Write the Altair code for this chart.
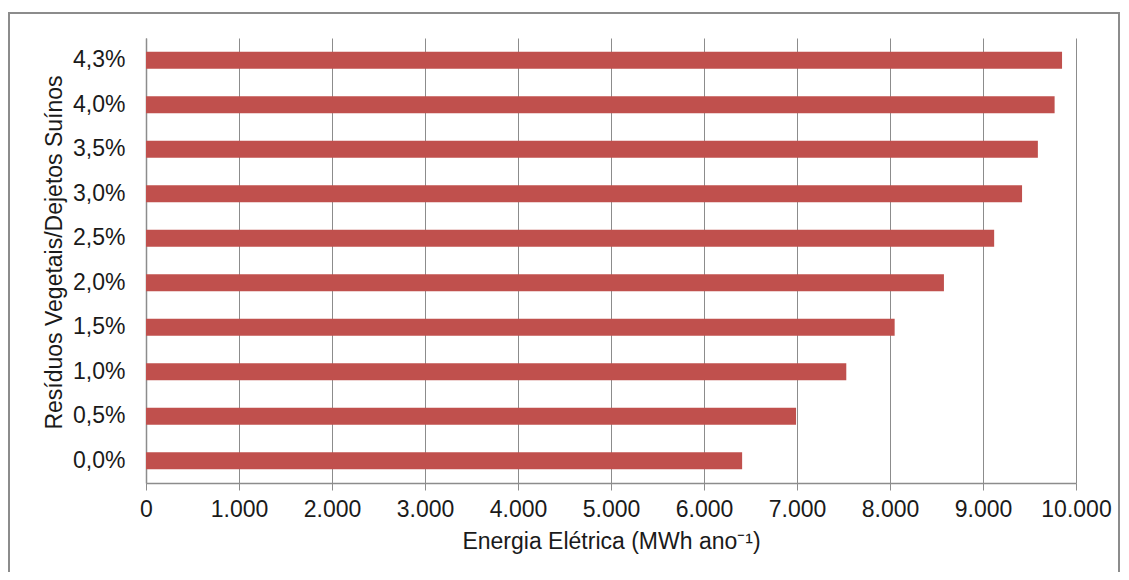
import altair as alt
import pandas as pd

categories = ["0,0%", "0,5%", "1,0%", "1,5%", "2,0%", "2,5%", "3,0%", "3,5%", "4,0%", "4,3%"]
values = [6410, 6990, 7530, 8050, 8580, 9120, 9420, 9590, 9770, 9850]
x_ticks = [0, 1000, 2000, 3000, 4000, 5000, 6000, 7000, 8000, 9000, 10000]

df = pd.DataFrame({"cat": categories, "val": values})

FONT = "Liberation Sans"
GRAY = "#8c8c8c"
TXT = "#1a1a1a"
FS = 23

bars = alt.Chart(df).mark_bar(color="#C0504D").encode(
    x=alt.X(
        "val:Q",
        scale=alt.Scale(domain=[0, 10000], nice=False, zero=True),
        axis=alt.Axis(
            values=x_ticks,
            title="Energia Elétrica (MWh ano⁻¹)",
            labelExpr="replace(format(datum.value, ','), ',', '.')",
            labelOverlap=False,
            labelFlush=False,
            grid=True,
            gridColor=GRAY,
            gridWidth=1,
            domainColor=GRAY,
            domainWidth=1.5,
            tickColor=GRAY,
            tickSize=7,
            labelPadding=8,
            labelFont=FONT,
            labelFontSize=FS,
            labelColor=TXT,
            titleFont=FONT,
            titleFontSize=FS,
            titleFontWeight="normal",
            titleColor=TXT,
            titlePadding=9,
        ),
    ),
    y=alt.Y(
        "cat:N",
        sort=categories[::-1],
        scale=alt.Scale(paddingInner=0.62, paddingOuter=0.31),
        axis=alt.Axis(
            title="Resíduos Vegetais/Dejetos Suínos",
            ticks=False,
            tickSize=0,
            grid=False,
            labelOverlap=False,
            domainColor=GRAY,
            domainWidth=1.5,
            labelPadding=21,
            labelFont=FONT,
            labelFontSize=FS,
            labelColor=TXT,
            titleFont=FONT,
            titleFontSize=FS,
            titleFontWeight="normal",
            titleColor=TXT,
            titlePadding=6,
            titleY=214,
        ),
    ),
)

frame = alt.Chart(pd.DataFrame({"a": [0]})).mark_rect(
    filled=False, stroke=GRAY, strokeWidth=2, clip=False
).encode(
    x=alt.value(-137), x2=alt.value(973), y=alt.value(-25), y2=alt.value(560)
)

chart = alt.layer(frame, bars).properties(
    width=930,
    height=445,
    padding={"left": 138, "top": 30, "right": 45, "bottom": 89},
    autosize=alt.AutoSizeParams(type="none"),
).configure_view(stroke=None)

chart.save("out.html", embed_options={"renderer": "svg", "actions": False})
